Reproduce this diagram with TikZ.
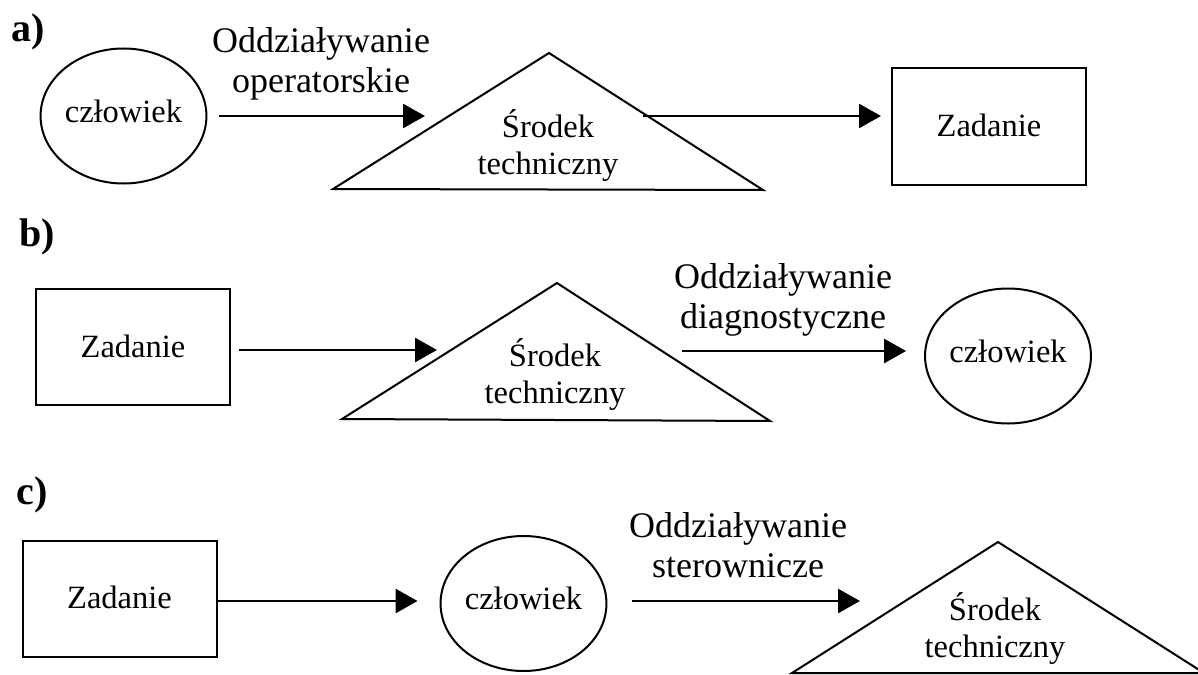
\documentclass[tikz,border=0pt]{standalone}
\usepackage{fontspec}
\setmainfont{Liberation Serif}
\usetikzlibrary{arrows.meta,shapes.geometric}
\begin{document}
\begin{tikzpicture}[x=1pt,y=-1pt,
  outline/.style={line width=2pt, line join=miter},
  person/.style={ellipse, draw, outline, minimum width=153pt, minimum height=135pt,
    inner sep=0pt, text height=22pt, text depth=10pt, font=\fontsize{32.5}{36}\selectfont},
  taskbox/.style={rectangle, draw, outline, minimum width=194pt, minimum height=116pt,
    inner sep=0pt, text height=22pt, text depth=2pt, font=\fontsize{32.5}{36}\selectfont},
  devtext/.style={align=center, inner sep=0pt, font=\fontsize{32.5}{37}\selectfont},
  flowlabel/.style={align=center, inner sep=0pt, font=\fontsize{36}{40}\selectfont},
  partlabel/.style={anchor=base, inner sep=0pt, font=\fontsize{40}{44}\selectfont\bfseries},
  flow/.style={line width=2.8pt, -{Triangle[length=22pt,width=24pt]}},
]
\useasboundingbox (0,0) rectangle (1198,674);
\clip (0,0) rectangle (1198,674);

% ---- a) operator acting on the device ----
\node[partlabel] (la) at (28.5,42) {a)};
\node[person] (cza) at (123.5,116) {człowiek};
\coordinate (tA1) at (549,53);
\coordinate (tA2) at (333,189);
\coordinate (tA3) at (763,190);
\draw[outline] (tA1) -- (tA3) -- (tA2) -- cycle;
\node[devtext] (sra) at (548,146) {Środek\\techniczny};
\node[taskbox] (zda) at (989,126.5) {Zadanie};
\node[flowlabel] (opa) at (321,63.5) {Oddziaływanie\\operatorskie};
\coordinate (a1end) at (425,116);
\draw[flow, shorten <=12pt] (cza.east) -- (a1end);
\coordinate (a2start) at (643,116);
\draw[flow, shorten >=10pt] (a2start) -- (a2start -| zda.west);

% ---- b) device reporting to the operator ----
\node[partlabel] (lb) at (37.5,246) {b)};
\node[taskbox] (zdb) at (133,347) {Zadanie};
\coordinate (tB1) at (557,283);
\coordinate (tB2) at (342,419);
\coordinate (tB3) at (770,421);
\draw[outline] (tB1) -- (tB3) -- (tB2) -- cycle;
\node[devtext] (srb) at (555,375) {Środek\\techniczny};
\node[person] (czb) at (1008,356) {człowiek};
\node[flowlabel] (dgb) at (783,300) {Oddziaływanie\\diagnostyczne};
\coordinate (b1end) at (437,350);
\draw[flow, shorten <=8pt] (zdb.east |- b1end) -- (b1end);
\coordinate (b2start) at (682,351);
\draw[flow, shorten >=18pt] (b2start) -- (b2start -| czb.west);

% ---- c) operator controlling the device ----
\node[partlabel] (lc) at (32.5,504) {c)};
\node[taskbox] (zdc) at (119.5,598.5) {Zadanie};
\node[person] (czc) at (523.5,603.5) {człowiek};
\coordinate (tC1) at (998,542);
\coordinate (tC2) at (792,673);
\coordinate (tC3) at (1204,673);
\draw[outline] (tC1) -- (tC3) -- (tC2) -- cycle;
\node[devtext] (src) at (995,629) {Środek\\techniczny};
\node[flowlabel] (stc) at (738,545) {Oddziaływanie\\sterownicze};
\coordinate (c1start) at (zdc.east |- 0,601);
\draw[flow, shorten >=22pt] (c1start) -- (c1start -| czc.west);
\coordinate (c2end) at (860,601);
\draw[flow, shorten <=25pt] (czc.east |- c2end) -- (c2end);
\end{tikzpicture}
\end{document}
